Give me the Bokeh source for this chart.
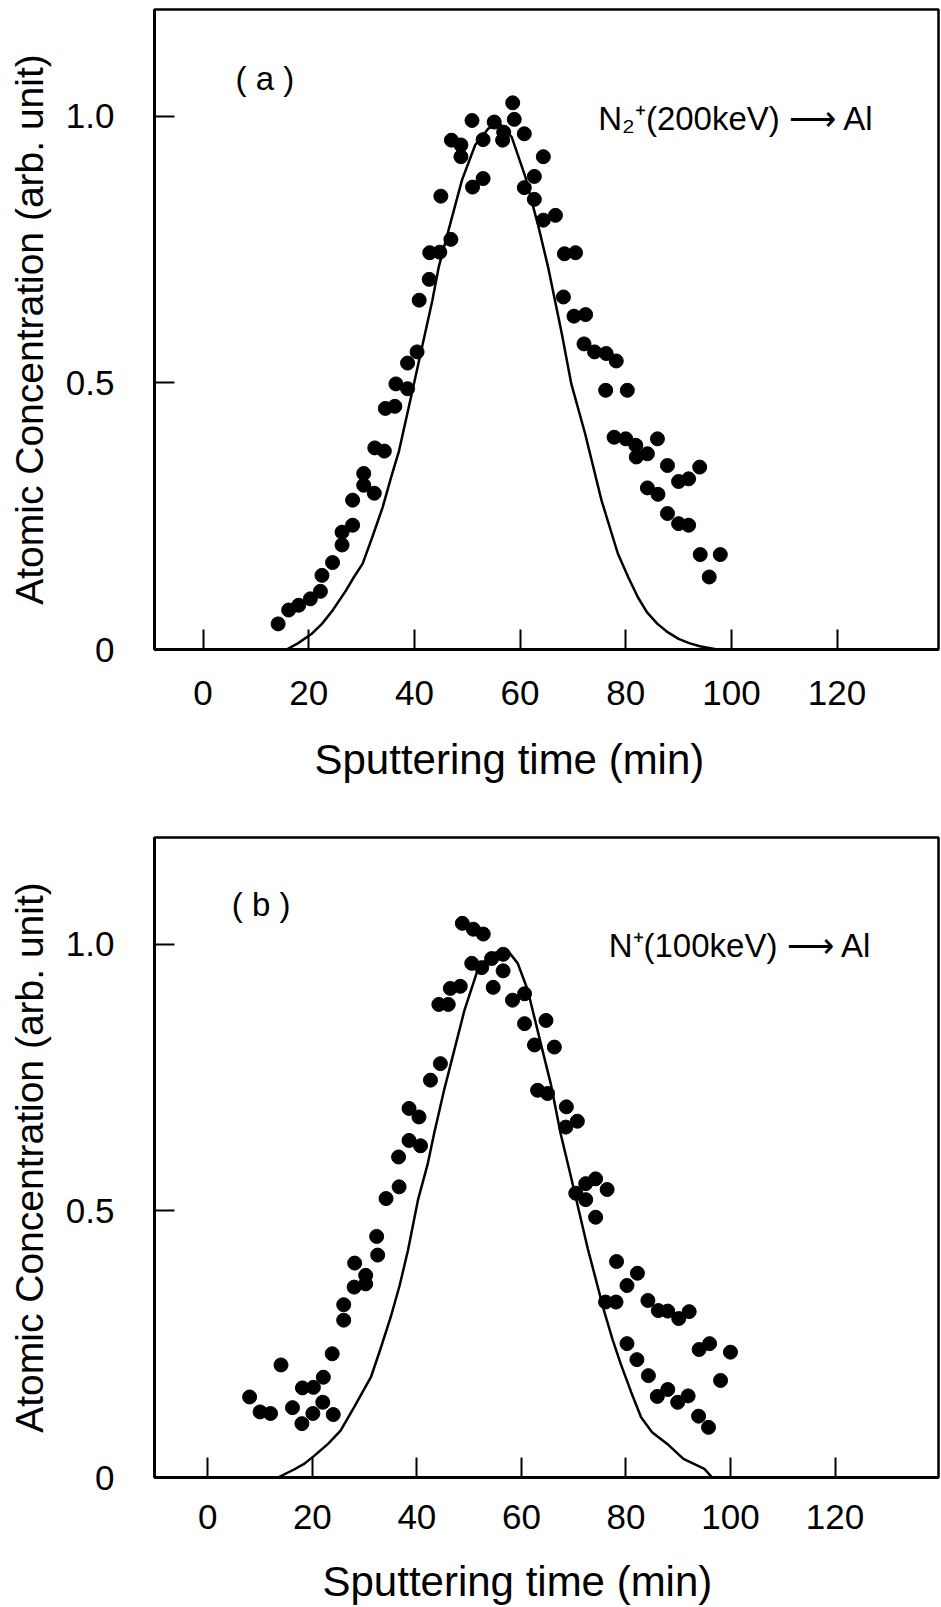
from bokeh.plotting import figure
from bokeh.layouts import column
from bokeh.models import FixedTicker, Range1d, Title
from bokeh.core.properties import value
from bokeh.embed import file_html
from bokeh.resources import INLINE

FONT = "Liberation Sans"

# ---------------- Panel (a): N2+ (200 keV) -> Al ----------------
a_time = [14.2, 16.2, 18.1, 20.3, 22.2, 22.5, 24.5, 26.3, 26.3, 28.3, 28.3, 30.4, 30.4, 32.4,
          32.5, 34.3, 34.5, 36.3, 36.5, 38.7, 38.7, 40.5, 40.9, 42.8, 42.9, 44.8, 45.0, 46.9,
          47.0, 48.8, 48.8, 51.0, 53.0, 50.9, 53.0, 55.1, 56.9, 56.7, 58.6, 58.9, 60.8, 60.8,
          62.7, 62.7, 64.4, 64.4, 66.7, 68.4, 70.5, 68.2, 70.2, 72.4, 72.1, 74.1, 76.3, 78.2,
          76.2, 80.3, 77.8, 80.0, 81.9, 82.0, 84.1, 86.0, 87.9, 90.0, 91.9, 94.0, 84.1, 86.1,
          87.9, 90.0, 91.9, 94.1, 97.9, 95.8]
a_conc = [0.048, 0.074, 0.083, 0.095, 0.109, 0.139, 0.163, 0.196, 0.220, 0.233, 0.280, 0.308, 0.330, 0.293,
          0.378, 0.372, 0.452, 0.456, 0.498, 0.489, 0.537, 0.558, 0.655, 0.694, 0.744, 0.745, 0.850, 0.769,
          0.955, 0.946, 0.924, 0.867, 0.883, 0.992, 0.956, 0.989, 0.970, 0.955, 1.025, 0.994, 0.967, 0.866,
          0.887, 0.844, 0.924, 0.805, 0.814, 0.742, 0.744, 0.661, 0.625, 0.628, 0.573, 0.558, 0.555, 0.541,
          0.486, 0.486, 0.398, 0.395, 0.383, 0.361, 0.367, 0.395, 0.345, 0.315, 0.320, 0.342, 0.303, 0.291,
          0.255, 0.236, 0.233, 0.178, 0.178, 0.136]
a_curve_time = [15.8, 18.0, 20.5, 22.5, 24.5, 27.0, 28.5, 30.2, 32.0, 34.0, 35.5, 37.1, 39.9, 43.4,
                44.6, 46.8, 49.0, 51.5, 54.0, 56.2, 58.4, 61.0, 63.5, 65.3, 67.9, 69.7, 72.3, 75.4,
                78.5, 80.5, 82.3, 84.0, 86.0, 88.0, 90.0, 92.0, 94.0, 97.3]
a_curve_conc = [0.0, 0.012, 0.029, 0.048, 0.073, 0.110, 0.135, 0.161, 0.210, 0.267, 0.320, 0.373, 0.498, 0.655,
                0.717, 0.799, 0.880, 0.946, 0.977, 0.985, 0.961, 0.886, 0.792, 0.717, 0.592, 0.498, 0.405, 0.280,
                0.180, 0.135, 0.098, 0.070, 0.048, 0.032, 0.020, 0.012, 0.006, 0.0]

# ---------------- Panel (b): N+ (100 keV) -> Al ----------------
b_time = [8.0, 10.0, 12.0, 14.0, 16.2, 18.0, 18.1, 20.1, 20.2, 22.0, 22.1, 23.8, 24.0, 26.0,
          26.0, 28.0, 28.1, 30.2, 30.2, 32.5, 32.3, 34.1, 36.5, 36.6, 38.5, 38.5, 40.4, 40.7,
          42.6, 44.5, 44.2, 46.0, 46.4, 48.3, 48.7, 50.8, 52.7, 50.5, 52.4, 54.3, 56.5, 56.5,
          54.6, 58.3, 60.6, 60.6, 64.7, 62.5, 66.3, 63.1, 65.0, 68.6, 70.7, 68.5, 74.2, 72.3,
          76.4, 70.4, 72.3, 74.2, 78.2, 82.2, 80.2, 76.1, 78.1, 84.2, 86.2, 88.0, 90.1, 92.1,
          80.2, 82.1, 84.3, 88.0, 86.0, 89.9, 91.9, 94.0, 96.0, 100.0, 98.1, 93.9, 95.8]
b_conc = [0.151, 0.123, 0.120, 0.211, 0.131, 0.101, 0.168, 0.120, 0.169, 0.141, 0.188, 0.232, 0.118, 0.295,
          0.324, 0.357, 0.402, 0.363, 0.379, 0.417, 0.452, 0.523, 0.601, 0.545, 0.632, 0.692, 0.676, 0.622,
          0.745, 0.776, 0.887, 0.887, 0.917, 0.921, 1.039, 1.028, 1.019, 0.964, 0.956, 0.973, 0.981, 0.950,
          0.919, 0.895, 0.907, 0.851, 0.857, 0.811, 0.807, 0.726, 0.720, 0.695, 0.668, 0.657, 0.560, 0.551,
          0.540, 0.533, 0.521, 0.488, 0.405, 0.383, 0.360, 0.329, 0.329, 0.332, 0.313, 0.312, 0.298, 0.311,
          0.251, 0.221, 0.191, 0.165, 0.152, 0.141, 0.153, 0.240, 0.251, 0.235, 0.182, 0.115, 0.094]
b_curve_time = [13.4, 16.5, 18.5, 20.4, 23.0, 25.4, 28.0, 31.2, 33.0, 35.0, 36.7, 38.3, 40.2, 42.1,
                43.3, 45.2, 46.5, 49.1, 51.6, 54.2, 57.3, 59.3, 61.2, 63.7, 65.6, 67.5, 69.5, 72.7,
                75.8, 77.4, 79.0, 81.0, 82.9, 85.0, 87.9, 91.0, 95.0, 96.5]
b_curve_conc = [0.0, 0.015, 0.026, 0.041, 0.063, 0.088, 0.132, 0.188, 0.240, 0.301, 0.360, 0.426, 0.520, 0.589,
                0.645, 0.726, 0.776, 0.876, 0.951, 0.982, 0.989, 0.964, 0.914, 0.814, 0.739, 0.645, 0.563, 0.429,
                0.313, 0.260, 0.213, 0.160, 0.113, 0.085, 0.063, 0.035, 0.016, 0.0]

x_ticks = [0, 20, 40, 60, 80, 100, 120]
y_ticks = [0, 0.5, 1.0]
y_tick_labels = {0: "0", 0.5: "0.5", 1: "1.0"}
x_label = "Sputtering time (min)"
y_label = "Atomic Concentration (arb. unit)"


def make_panel(height, top, bottom, left, right, xr, times, concs, ctimes, cconcs,
               tag, tag_xy, note, note_xy, xlab_offset, spacer, xtick_standoff):
    p = figure(width=941, height=height, output_backend="svg", toolbar_location=None,
               x_range=Range1d(*xr), y_range=Range1d(0, 1.2),
               min_border_top=top, min_border_bottom=bottom,
               min_border_left=left, min_border_right=right)
    p.background_fill_color = "white"
    p.border_fill_color = "white"
    p.outline_line_color = "black"
    p.outline_line_width = 2.5
    p.xgrid.visible = False
    p.ygrid.visible = False

    for ax in (p.xaxis[0], p.yaxis[0]):
        ax.axis_line_width = 3
        ax.axis_line_color = "black"
        ax.major_tick_in = 20
        ax.major_tick_out = 0
        ax.major_tick_line_width = 2
        ax.major_tick_line_color = "black"
        ax.minor_tick_line_color = None
        ax.major_label_text_font = FONT
        ax.major_label_text_font_size = "35px"
        ax.major_label_text_color = "black"
        ax.axis_label_text_font = FONT
        ax.axis_label_text_font_size = "39px"
        ax.axis_label_text_font_style = "normal"
        ax.axis_label_text_color = "black"

    xa = p.xaxis[0]
    xa.ticker = FixedTicker(ticks=x_ticks)
    xa.major_label_standoff = xtick_standoff
    # blank label used only as a spacer before the title below
    xa.axis_label = " "
    xa.axis_label_text_font_size = "1px"
    xa.axis_label_standoff = spacer

    p.yaxis.ticker = FixedTicker(ticks=y_ticks)
    p.yaxis.major_label_overrides = y_tick_labels
    p.yaxis.axis_label = y_label
    p.yaxis.major_label_standoff = 40
    p.yaxis.axis_label_standoff = 12

    p.line(ctimes, cconcs, line_color="black", line_width=2.5)
    p.scatter(times, concs, size=14, marker="circle", fill_color="black", line_color="black")

    p.text(x=[tag_xy[0]], y=[tag_xy[1]], text=[tag], text_font=value(FONT),
           text_font_size="33px", text_align="center", text_baseline="middle", text_color="black")
    p.text(x=[note_xy[0]], y=[note_xy[1]], text=[note], text_font=value(FONT),
           text_font_size="33px", text_align="left", text_baseline="alphabetic", text_color="black")

    p.add_layout(Title(text=x_label, align="left", offset=xlab_offset, standoff=0,
                       text_font=FONT, text_font_size="42px", text_font_style="normal",
                       text_color="black"), "below")
    return p


pa = make_panel(800, 9, 151, 154, 0, (-9.2, 139.2), a_time, a_conc, a_curve_time, a_curve_conc,
                "( a )", (11.7, 1.07), "N\u2082\u207a(200keV) \u27f6 Al", (74.8, 0.995),
                160, 22, 31)
pb = make_panel(807, 37, 130, 146, 3, (-10.2, 139.8), b_time, b_conc, b_curve_time, b_curve_conc,
                "( b )", (10.2, 1.075), "N\u207a(100keV) \u27f6 Al", (76.7, 0.998),
                168, 20, 27)

layout = column(pa, pb, spacing=0)
open("out.html", "w").write(file_html(layout, INLINE))
